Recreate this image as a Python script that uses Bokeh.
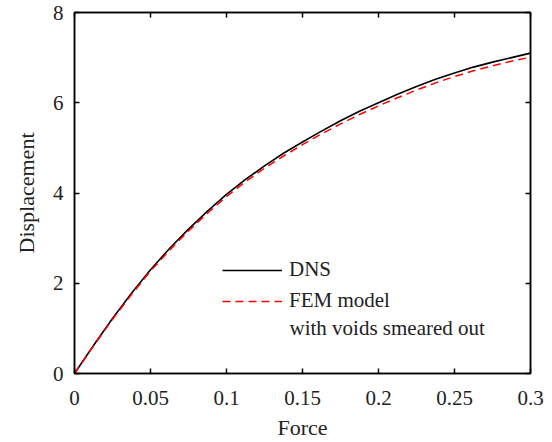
from bokeh.plotting import figure
from bokeh.models import Range1d, FixedTicker, LinearAxis, Legend, LegendItem, Label
from bokeh.embed import file_html
from bokeh.resources import INLINE

# data
force = [0.0, 0.0125, 0.025, 0.0375, 0.05, 0.0625, 0.075, 0.0875, 0.1, 0.1125,
         0.125, 0.1375, 0.15, 0.1625, 0.175, 0.1875, 0.2, 0.2125, 0.225, 0.2375,
         0.25, 0.2625, 0.275, 0.2875, 0.3]
dns = [0.0, 0.62, 1.22, 1.78, 2.30, 2.77, 3.20, 3.60, 3.97, 4.30,
       4.60, 4.88, 5.13, 5.37, 5.60, 5.81, 6.00, 6.19, 6.36, 6.52,
       6.66, 6.79, 6.90, 7.00, 7.10]
fem = [0.0, 0.61, 1.20, 1.75, 2.27, 2.73, 3.16, 3.55, 3.92, 4.25,
       4.55, 4.82, 5.07, 5.31, 5.53, 5.74, 5.93, 6.11, 6.28, 6.44,
       6.58, 6.71, 6.82, 6.92, 7.01]
x_ticks = [0.0, 0.05, 0.1, 0.15, 0.2, 0.25, 0.3]
x_tick_labels = ["0", "0.05", "0.1", "0.15", "0.2", "0.25", "0.3"]
y_ticks = [0, 2, 4, 6, 8]
y_tick_labels = ["0", "2", "4", "6", "8"]

FONT = "'Liberation Serif', 'DejaVu Serif', serif"

p = figure(width=552, height=442, output_backend="svg", toolbar_location=None,
           x_range=Range1d(0, 0.3), y_range=Range1d(0, 8),
           min_border_left=74, min_border_right=22, min_border_top=12, min_border_bottom=69)
p.grid.grid_line_color = None
p.outline_line_color = "black"
p.outline_line_width = 1.5
p.background_fill_color = "white"
p.border_fill_color = "white"

r1 = p.line(force, dns, line_color="black", line_width=1.6, line_join="round")
r2 = p.line(force, fem, line_color="#ff0000", line_width=1.5, line_dash="8 5", line_join="round")

def style(ax, ticks, labels, show_labels, size):
    ax.ticker = FixedTicker(ticks=ticks)
    ax.major_tick_in = 5
    ax.major_tick_out = 0
    ax.major_tick_line_width = 1.5
    ax.minor_tick_line_color = None
    ax.axis_line_width = 1.5
    ax.major_label_text_font = FONT
    ax.major_label_text_color = "#222222"
    if show_labels:
        ax.major_label_overrides = {t: l for t, l in zip(ticks, labels)}
        ax.major_label_text_font_size = size
    else:
        ax.major_label_overrides = {t: "" for t in ticks}
        ax.major_label_text_font_size = "1px"
        ax.major_label_standoff = 0

xa = p.xaxis[0]
ya = p.yaxis[0]
style(xa, x_ticks, x_tick_labels, True, "21px")
style(ya, y_ticks, y_tick_labels, True, "21px")
xa.major_label_standoff = 17
ya.major_label_standoff = 11
xa.axis_label = "Force"
ya.axis_label = "Displacement"
for ax in (xa, ya):
    ax.axis_label_text_font = FONT
    ax.axis_label_text_font_size = "22px"
    ax.axis_label_text_font_style = "normal"
    ax.axis_label_text_color = "#222222"
xa.axis_label_standoff = 7
ya.axis_label_standoff = 11

top = LinearAxis()
style(top, x_ticks, x_tick_labels, False, "1px")
p.add_layout(top, "above")
right = LinearAxis()
style(right, y_ticks, y_tick_labels, False, "1px")
p.add_layout(right, "right")

legend = Legend(items=[LegendItem(label="DNS", renderers=[r1]),
                       LegendItem(label="FEM model", renderers=[r2])],
                location=(148, 60), orientation="vertical")
legend.border_line_color = None
legend.background_fill_alpha = 0
legend.padding = 0
legend.margin = 0
legend.spacing = 6
legend.glyph_width = 60
legend.glyph_height = 20
legend.label_standoff = 7
legend.label_text_font = FONT
legend.label_text_font_size = "21px"
legend.label_text_color = "#222222"
p.add_layout(legend, "center")

p.add_layout(Label(x=215, y=46, x_units="screen", y_units="screen",
                   text="with voids smeared out", text_font=FONT,
                   text_font_size="21px", text_color="#222222",
                   text_baseline="middle"))

open("out.html", "w").write(file_html(p, INLINE))
